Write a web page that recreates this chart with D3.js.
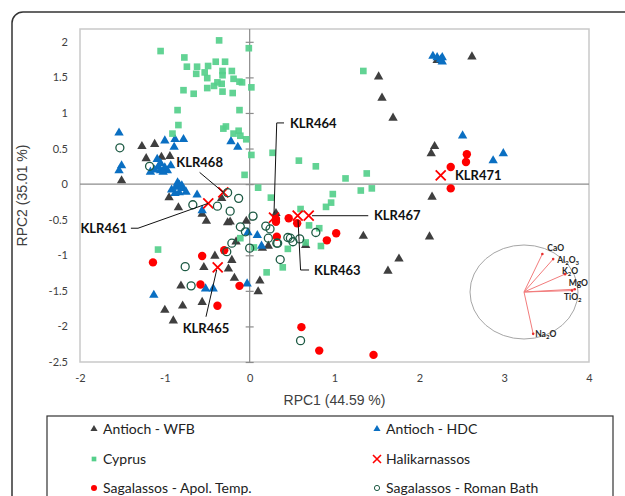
<!DOCTYPE html>
<html><head><meta charset="utf-8">
<script src="https://cdn.jsdelivr.net/npm/d3@7"></script>
<style>body{margin:0;background:#fff}svg{display:block}</style>
</head><body><svg id="c" width="625" height="496"></svg>
<script>
// ---------- data ----------
const xTicks = [-2, -1, 0, 1, 2, 3, 4];
const yTicks = [-2.5, -2, -1.5, -1, -0.5, 0, 0.5, 1, 1.5, 2];

const antiochWFB = [
  [-1.27,0.53],[-1.12,0.56],[-1.22,0.36],[-1.04,0.38],[-0.94,0.39],[-1.51,0.05],[-0.33,-0.20],
  [1.52,1.51],[1.56,1.21],[1.69,0.93],[2.18,0.53],[2.14,0.43],[2.15,-0.18],[2.62,1.79],[2.21,1.74],
  [-0.95,-0.19],[-0.84,-0.33],[-0.56,-0.42],[-0.51,-0.52],[-0.26,-0.54],[-0.23,-0.53],[-0.04,-0.52],
  [-0.16,-0.81],[-0.41,-1.01],[-0.21,-1.07],[-0.54,-1.17],[-0.25,-1.19],[-0.18,-1.32],[-0.81,-1.43],
  [0.12,-1.36],[0.10,-1.51],[-0.56,-1.66],[-0.79,-1.71],[-1.00,-1.77],[-0.90,-1.92],[0.15,-0.90],
  [0.22,-0.87],[0.31,-0.41],[0.66,-0.86],[1.34,-0.73],[2.12,-0.74],[1.76,-1.05],[1.63,-1.22]
];
const antiochHDC = [
  [-1.54,0.72],[-1.51,0.26],[-1.54,0.19],[-1.00,0.61],[-0.88,0.63],[-0.78,0.63],[-0.89,0.52],
  [-1.09,0.35],[-1.05,0.29],[-1.08,0.24],[-1.17,0.17],[-1.05,0.19],[-0.97,0.19],[-0.93,0.26],
  [-1.12,0.20],[-1.00,0.23],[-1.02,0.17],[-0.22,0.60],[-0.14,0.52],
  [-0.92,-0.08],[-0.87,-0.04],[-0.83,-0.01],[-0.79,-0.06],[-0.75,-0.11],[-0.88,-0.13],[-0.83,-0.12],
  [-0.85,0.02],[-0.80,-0.02],[-0.62,-0.15],[-0.56,-0.37],[-1.13,-1.56],[-0.52,-1.47],[-0.43,-1.47],
  [-0.03,-1.40],[-0.02,-0.68],[0.09,-0.72],[0.14,-0.87],
  [2.16,1.80],[2.21,1.78],[2.27,1.72],[2.25,1.75],[2.27,1.78],[2.51,0.68],[2.87,0.33],[2.99,0.43]
];
const cyprus = [
  [-1.05,1.87],[-0.36,2.02],[-0.77,1.78],[-0.74,1.65],[-0.62,1.65],[-0.49,1.66],[-0.40,1.72],[-0.29,1.72],
  [-0.63,1.55],[-0.53,1.57],[-0.50,1.49],[-0.32,1.59],[-0.32,1.53],[-0.21,1.59],[-0.19,1.48],[-0.38,1.43],
  [-0.33,1.41],[-0.42,1.38],[-0.50,1.35],[-0.12,1.44],[-0.09,1.43],[-0.01,1.91],[0.02,1.36],[-0.78,1.32],
  [-0.66,1.27],[-0.32,1.30],[-0.20,1.28],[-0.85,1.04],[-0.12,1.04],[-0.84,0.83],[-0.91,0.71],[-0.31,0.78],
  [-0.28,0.81],[-0.19,0.71],[-0.13,0.75],[-0.11,0.68],[-0.04,0.63],[0.02,0.41],[-0.06,0.13],[0.10,-0.05],
  [1.34,1.59],[0.27,0.44],[0.58,0.33],[0.78,0.25],[1.13,0.08],[1.38,0.15],[1.44,-0.06],[0.98,-0.14],
  [1.31,-0.09],[0.25,-0.19],[0.96,-0.26],[0.90,-0.32],[0.60,-0.35],[0.70,-0.58],[0.82,-0.62],[0.66,-0.82],
  [0.84,-0.87],[0.45,-0.91],[0.39,-1.17],[0.20,-1.24],[0.05,-0.89],[-1.08,-0.92],[-0.11,-0.76]
];
const halikarnassos = [
  ["KLR468",-0.311,-0.115],["KLR461",-0.488,-0.27],["KLR465",-0.377,-1.17],["KLR464",0.287,-0.472],
  ["KLR463",0.566,-0.444],["KLR467",0.696,-0.444],["KLR471",2.252,0.124]
];
const apolTemp = [
  [2.56,0.42],[2.55,0.31],[2.37,0.24],[2.37,-0.06],[0.31,-0.53],[0.31,-0.49],[0.46,-0.48],[0.56,-0.55],
  [0.32,-0.74],[0.91,-0.79],[1.02,-0.69],[0.61,-2.01],[0.82,-2.34],[1.46,-2.40],[-1.14,-1.10],
  [-0.56,-1.01],[-0.30,-0.93],[-0.58,-1.41],[-0.12,-1.43],[-0.38,-1.71]
];
const romanBath = [
  [-1.53,0.51],[-1.18,0.25],[-0.26,-0.12],[-0.13,-0.20],[-0.67,-0.29],[-0.38,-0.31],[-0.23,-0.38],
  [0.04,-0.45],[-0.11,-0.60],[-0.05,-0.67],[0.19,-0.59],[0.24,-0.63],[0.22,-0.76],[-0.21,-0.83],
  [-0.27,-0.95],[0.00,-0.90],[-0.76,-1.16],[-0.69,-1.43],[0.32,-0.83],[0.33,-0.83],[0.45,-0.75],
  [0.36,-1.06],[0.48,-0.76],[0.51,-0.81],[0.59,-0.77],[0.78,-0.68],[0.60,-2.20]
];
// loading vectors for inset (unit circle)
const oxides = ["CaO","Al2O3","K2O","MgO","TiO2","Na2O"];
const loadX = [0.34, 0.54, 0.76, 0.94, 0.89, 0.17];
const loadY = [0.81, 0.70, 0.38, 0.06, 0.03, -0.89];
const legendLabels = ["Antioch - WFB","Antioch - HDC","Cyprus","Halikarnassos","Sagalassos - Apol. Temp.","Sagalassos - Roman Bath"];

// ---------- layout ----------
const svg = d3.select("#c");
const x = d3.scaleLinear().domain([-2, 4]).range([80, 589]);
const y = d3.scaleLinear().domain([-2.5, 2.18]).range([362, 29]);
const FONT = "Lato, 'Open Sans', sans-serif";
const C = {wfb:"#3f3f3f", hdc:"#0a6fc2", cyp:"#55cf8b", red:"#ff0000", bath:"#1d5a44"};

// outer frame
svg.append("rect").attr("x",12).attr("y",12).attr("width",700).attr("height",600).attr("rx",11)
  .attr("fill","none").attr("stroke","#333").attr("stroke-width",1.5);

// plot border
svg.append("rect").attr("x",x(-2)).attr("y",y(2.18)).attr("width",x(4)-x(-2)).attr("height",y(-2.5)-y(2.18))
  .attr("fill","none").attr("stroke","#c9c9c9").attr("stroke-width",1.5);

// zero axes
svg.append("line").attr("x1",x(0)).attr("x2",x(0)).attr("y1",y(2.18)).attr("y2",y(-2.5)).attr("stroke","#8c8c8c").attr("stroke-width",1.2);
svg.append("line").attr("x1",x(-2)).attr("x2",x(4)).attr("y1",y(0)).attr("y2",y(0)).attr("stroke","#8c8c8c").attr("stroke-width",1.2);

// cross tick marks on vertical zero axis
const tk = svg.append("g").attr("transform",`translate(${x(0)-4},0)`)
  .call(d3.axisRight(y).tickValues(yTicks).tickSize(8).tickFormat(""));
tk.select(".domain").remove();
tk.selectAll("line").attr("stroke","#8c8c8c").attr("stroke-width",1.2);

// tick labels
const ya = svg.append("g").attr("transform",`translate(${x(-2)},0)`)
  .call(d3.axisLeft(y).tickValues(yTicks).tickSize(0).tickPadding(12).tickFormat(d=>String(d)));
ya.select(".domain").remove();
ya.selectAll("text").attr("font-family",FONT).attr("font-size",11).attr("fill","#404040");
const xa = svg.append("g").attr("transform",`translate(0,${y(-2.5)})`)
  .call(d3.axisBottom(x).tickValues(xTicks).tickSize(0).tickPadding(12).tickFormat(d=>String(d)));
xa.select(".domain").remove();
xa.selectAll("text").attr("font-family",FONT).attr("font-size",11).attr("fill","#404040");

// axis titles
svg.append("text").attr("x",(x(-2)+x(4))/2).attr("y",405).attr("text-anchor","middle")
  .attr("font-family","'Liberation Sans', Arial, sans-serif").attr("font-size",14).attr("fill","#404040").text("RPC1 (44.59 %)");
svg.append("text").attr("transform",`translate(27,${(y(2.18)+y(-2.5))/2}) rotate(-90)`).attr("text-anchor","middle")
  .attr("font-family","'Liberation Sans', Arial, sans-serif").attr("font-size",14).attr("fill","#404040").text("RPC2 (35.01 %)");

// ---------- marks ----------
const tri = d3.symbol().type(d3.symbolTriangle).size(38);
const sq = d3.symbol().type(d3.symbolSquare).size(44);
svg.append("g").selectAll("path").data(antiochWFB).join("path")
  .attr("d",tri).attr("transform",d=>`translate(${x(d[0])},${y(d[1])})`).attr("fill",C.wfb);
svg.append("g").selectAll("path").data(antiochHDC).join("path")
  .attr("d",tri).attr("transform",d=>`translate(${x(d[0])},${y(d[1])})`).attr("fill",C.hdc);
svg.append("g").selectAll("path").data(cyprus).join("path")
  .attr("d",sq).attr("transform",d=>`translate(${x(d[0])},${y(d[1])})`).attr("fill",C.cyp).attr("opacity",0.92);
const xs = 5;
svg.append("g").selectAll("path").data(halikarnassos).join("path")
  .attr("d",d=>{const cx=x(d[1]),cy=y(d[2]);return `M${cx-xs},${cy-xs}L${cx+xs},${cy+xs}M${cx+xs},${cy-xs}L${cx-xs},${cy+xs}`;})
  .attr("stroke",C.red).attr("stroke-width",1.8).attr("fill","none");
svg.append("g").selectAll("circle").data(apolTemp).join("circle")
  .attr("cx",d=>x(d[0])).attr("cy",d=>y(d[1])).attr("r",4.2).attr("fill",C.red);
svg.append("g").selectAll("circle").data(romanBath).join("circle")
  .attr("cx",d=>x(d[0])).attr("cy",d=>y(d[1])).attr("r",4).attr("fill","none").attr("stroke",C.bath).attr("stroke-width",1.3);

// ---------- callouts ----------
const callouts = {
  KLR468:{t:[-0.59,0.31],a:"middle",p:[[-0.59,0.165],[-0.311,-0.115]]},
  KLR461:{t:[-1.445,-0.62],a:"end",p:[[-1.40,-0.62],[-1.316,-0.62],[-0.488,-0.27]]},
  KLR465:{t:[-0.515,-2.03],a:"middle",p:[[-0.515,-1.864],[-0.389,-1.207]]},
  KLR464:{t:[0.475,0.86],a:"start",p:[[0.405,0.86],[0.319,0.86],[0.287,-0.41]]},
  KLR467:{t:[1.465,-0.444],a:"start",p:[[1.398,-0.444],[0.735,-0.444]]},
  KLR463:{t:[0.758,-1.207],a:"start",p:[[0.70,-1.207],[0.60,-1.207],[0.57,-0.505]]},
  KLR471:{t:[2.42,0.124],a:"start",p:null}
};
const line = d3.line().x(d=>x(d[0])).y(d=>y(d[1]));
halikarnassos.forEach(h=>{
  const c = callouts[h[0]];
  if (c.p) svg.append("path").attr("d",line(c.p)).attr("fill","none").attr("stroke","#111").attr("stroke-width",1);
  svg.append("text").attr("x",x(c.t[0])).attr("y",y(c.t[1])).attr("dy","0.36em").attr("text-anchor",c.a)
    .attr("font-family",FONT).attr("font-weight",700).attr("font-size",13).attr("fill","#111").text(h[0]);
});

// ---------- inset loadings plot ----------
const ix = d3.scaleLinear().domain([-1,1]).range([470,578]);
const iy = d3.scaleLinear().domain([-1,1]).range([339,245]);
svg.append("ellipse").attr("cx",ix(0)).attr("cy",iy(0)).attr("rx",(ix(1)-ix(-1))/2).attr("ry",(iy(-1)-iy(1))/2)
  .attr("fill","none").attr("stroke","#a6a6a6").attr("stroke-width",1);
const labOff = [[5,-3],[4,4],[-3,0],[-6,-3],[-8,9],[2,3]];
oxides.forEach((o,i)=>{
  svg.append("line").attr("x1",ix(0)).attr("y1",iy(0)).attr("x2",ix(loadX[i])).attr("y2",iy(loadY[i]))
    .attr("stroke","#f27c7c").attr("stroke-width",1);
  svg.append("circle").attr("cx",ix(loadX[i])).attr("cy",iy(loadY[i])).attr("r",1.3).attr("fill","#e8302f");
  const t = svg.append("text").attr("x",ix(loadX[i])+labOff[i][0]).attr("y",iy(loadY[i])+labOff[i][1])
    .attr("font-family",FONT).attr("font-weight",700).attr("font-size",8.5).attr("fill","#262626");
  const parts = o.match(/[A-Za-z]+|\d/g);
  parts.forEach(p=>{
    if (/\d/.test(p)) t.append("tspan").attr("font-size",6).attr("baseline-shift","-25%").text(p);
    else t.append("tspan").text(p);
  });
});

// ---------- legend ----------
svg.append("rect").attr("x",47).attr("y",416).attr("width",566).attr("height",120)
  .attr("fill","#fff").attr("stroke","#333").attr("stroke-width",1.2);
const lg = svg.append("g");
const colX = [94, 377], rowY = [429, 459, 488];
legendLabels.forEach((lab,i)=>{
  const mx = colX[i%2], my = rowY[Math.floor(i/2)];
  if (i===0||i===1) lg.append("path").attr("d",d3.symbol().type(d3.symbolTriangle).size(22)()).attr("transform",`translate(${mx},${my})`).attr("fill",i===0?C.wfb:C.hdc);
  if (i===2) lg.append("path").attr("d",d3.symbol().type(d3.symbolSquare).size(22)()).attr("transform",`translate(${mx},${my})`).attr("fill",C.cyp);
  if (i===3) lg.append("path").attr("d",`M${mx-4},${my-4}L${mx+4},${my+4}M${mx+4},${my-4}L${mx-4},${my+4}`).attr("stroke",C.red).attr("stroke-width",1.6);
  if (i===4) lg.append("circle").attr("cx",mx).attr("cy",my).attr("r",3).attr("fill",C.red);
  if (i===5) lg.append("circle").attr("cx",mx).attr("cy",my).attr("r",2.6).attr("fill","none").attr("stroke",C.bath).attr("stroke-width",1);
  lg.append("text").attr("x",mx+9).attr("y",my).attr("dy","0.36em").attr("font-family",FONT).attr("font-size",14).attr("fill","#222").text(lab);
});
</script></body></html>
